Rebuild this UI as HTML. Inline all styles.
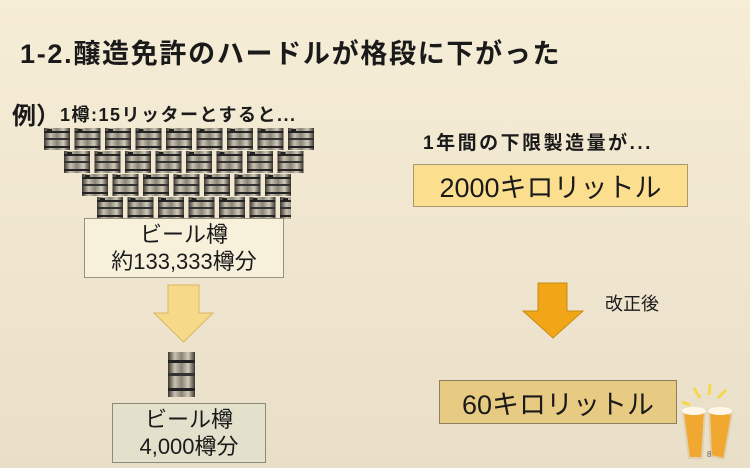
<!DOCTYPE html>
<html><head><meta charset="utf-8"><style>
body{margin:0;width:750px;height:468px;overflow:hidden;background:linear-gradient(#f6edd6,#efe5cf 60%,#e9dfc9);font-family:"Liberation Sans","Noto Sans CJK JP",sans-serif;position:relative;color:#1a1a1a}
.a{position:absolute;white-space:nowrap}
.box{position:absolute;box-sizing:border-box;display:flex;align-items:center;justify-content:center;text-align:center}
</style></head><body>
<div class="a" style="left:20px;top:32px;font-size:27px;font-weight:bold;letter-spacing:1.7px">1-2.醸造免許のハードルが格段に下がった</div>
<div class="a" style="left:12px;top:96px;font-size:24px;font-weight:bold">例）<span style="font-size:18px;vertical-align:3px;letter-spacing:1.5px">1樽:15リッターとすると...</span></div>
<svg class="a" style="left:0;top:0" width="750" height="468">
<defs>
<linearGradient id="k" x1="0" x2="1"><stop offset="0" stop-color="#3a3530"/><stop offset=".25" stop-color="#c8c1b0"/><stop offset=".5" stop-color="#8a8478"/><stop offset=".75" stop-color="#d0cab8"/><stop offset="1" stop-color="#3a3530"/></linearGradient>
<pattern id="kp" width="30.5" height="23" patternUnits="userSpaceOnUse">
<rect x="2" y="0" width="26" height="22" fill="url(#k)"/>
<rect x="2" y="3" width="26" height="2" fill="#222"/><rect x="2" y="10" width="26" height="2" fill="#333"/><rect x="2" y="18" width="26" height="2" fill="#222"/>
<rect x="5" y="1" width="5" height="2" fill="#222"/>
</pattern>
</defs>
<g transform="translate(42,128)"><rect width="275" height="23" fill="url(#kp)"/></g>
<g transform="translate(62,151)"><rect width="244" height="23" fill="url(#kp)"/></g>
<g transform="translate(80,174)"><rect width="214" height="23" fill="url(#kp)"/></g>
<g transform="translate(95,197)"><rect width="196" height="22" fill="url(#kp)"/></g>
<polygon points="168,285 199,285 199,313 213,313 183.5,342 154,313 168,313" fill="#f7d98a" stroke="#d8b860" stroke-width="1"/>
<rect x="168" y="352" width="27" height="45" fill="url(#k)"/>
<rect x="168" y="360" width="27" height="3" fill="#222"/><rect x="168" y="373" width="27" height="3" fill="#333"/><rect x="168" y="388" width="27" height="3" fill="#222"/>
<polygon points="538,283 567,283 567,311 583,311 553,338 523,311 538,311" fill="#f1a617" stroke="#c88a10" stroke-width="1"/>
<g stroke="#f3d84a" stroke-width="3"><line x1="700" y1="398" x2="694" y2="388"/><line x1="709" y1="395" x2="710" y2="384"/><line x1="718" y1="398" x2="726" y2="390"/><line x1="690" y1="405" x2="682" y2="402"/></g>
<polygon points="683,412 705,410 702,458 689,458" fill="#f0a830" stroke="#e0d0b0" stroke-width="2"/>
<polygon points="709,410 732,414 724,459 711,456" fill="#f0a830" stroke="#e0d0b0" stroke-width="2"/>
<ellipse cx="694" cy="411" rx="12" ry="4" fill="#fff8e8"/><ellipse cx="720" cy="411" rx="12" ry="4" fill="#fff8e8"/>
<text x="707" y="457" font-size="8" fill="#666" font-family="Liberation Sans">8</text>
</svg>
<div class="box" style="left:84px;top:218px;width:200px;height:60px;background:#f7f1dc;border:1px solid #999080;font-size:22px;line-height:27px">ビール樽<br>約133,333樽分</div>
<div class="box" style="left:112px;top:403px;width:154px;height:60px;background:#e3e1cb;border:1px solid #8a8a7a;font-size:22px;line-height:27px">ビール樽<br>4,000樽分</div>
<div class="a" style="left:423px;top:128px;font-size:19px;font-weight:bold;letter-spacing:2.5px">1年間の下限製造量が...</div>
<div class="box" style="left:413px;top:164px;width:275px;height:43px;background:#fbdf8f;border:1px solid #a89a70;font-size:27px">2000キロリットル</div>
<div class="a" style="left:605px;top:290px;font-size:18px">改正後</div>
<div class="box" style="left:439px;top:380px;width:238px;height:44px;background:#e8cb82;border:1px solid #8f8060;font-size:27px">60キロリットル</div>
</body></html>
